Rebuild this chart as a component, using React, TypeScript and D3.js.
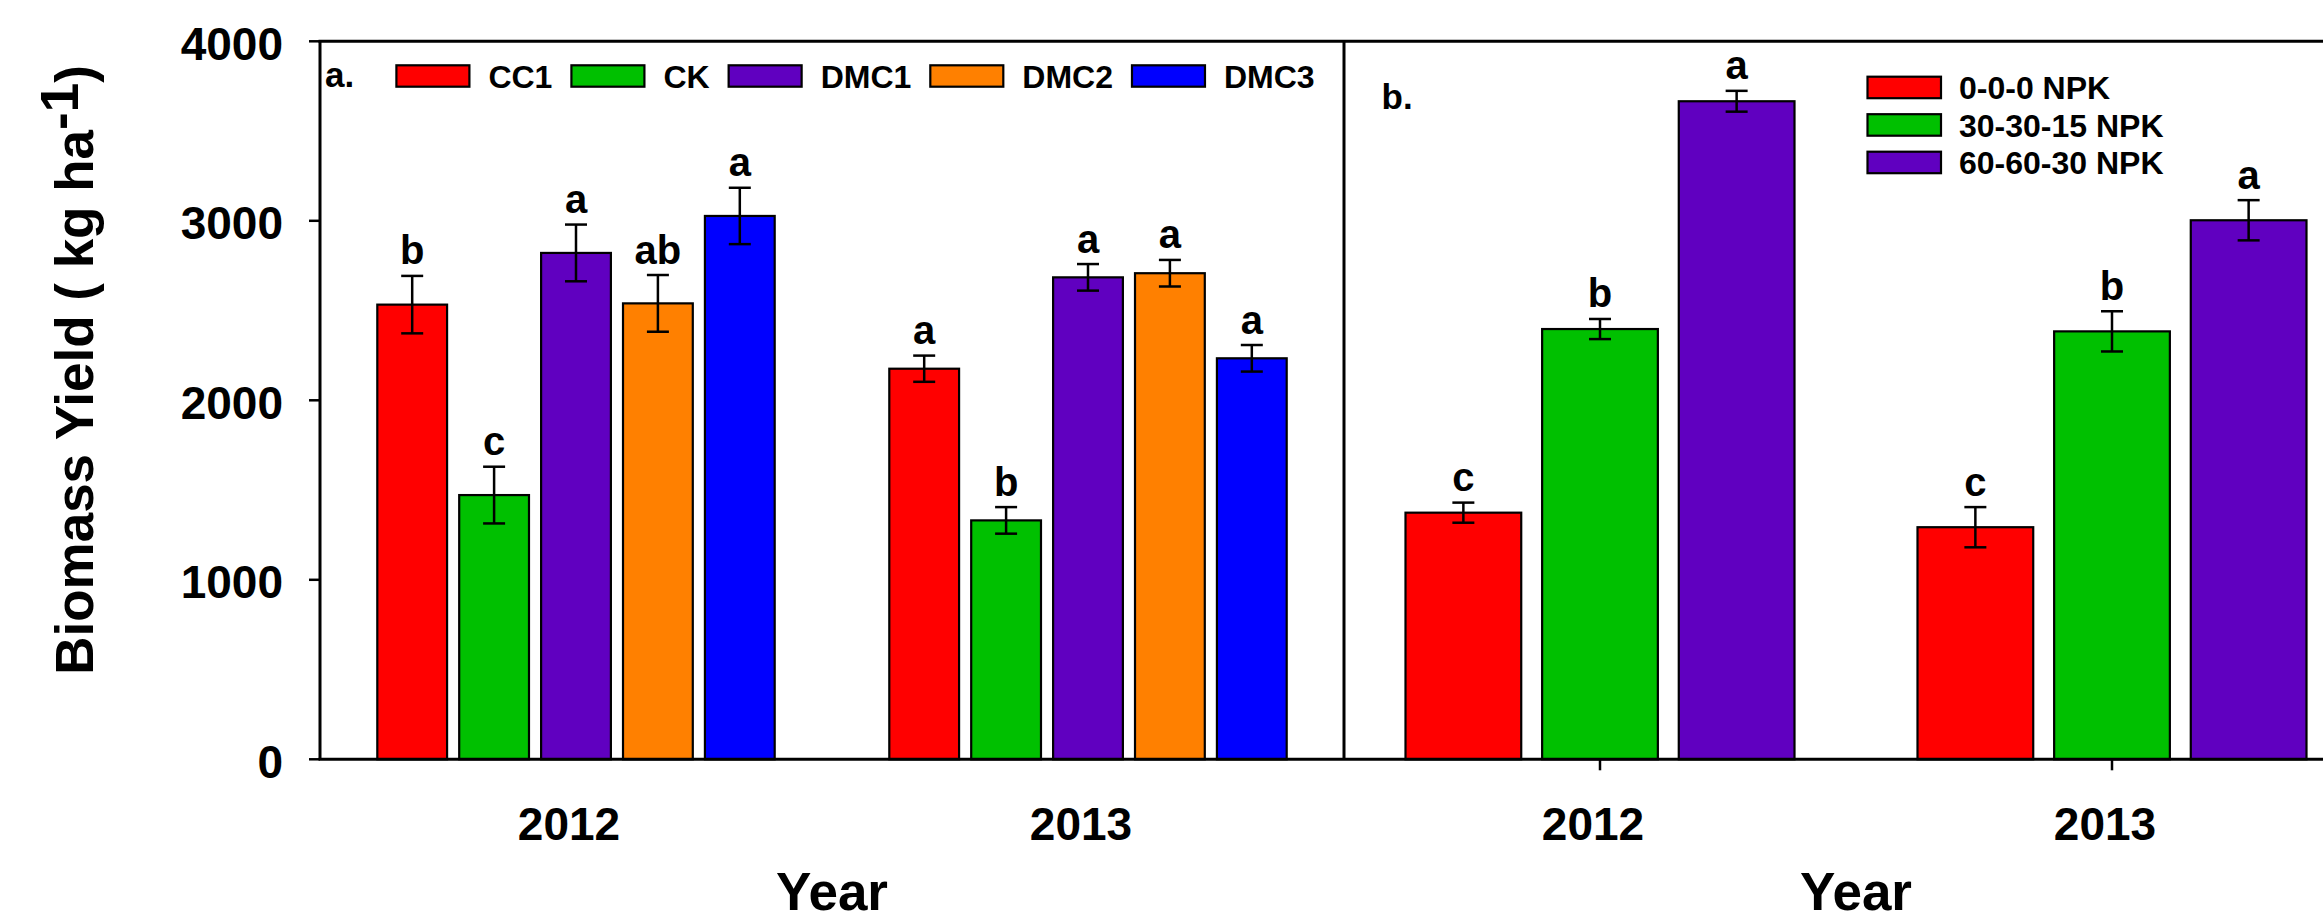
import React from "react";
import * as d3 from "d3";

// ---- data ----
const years = ["2012", "2013"];

const treatments = ["CC1", "CK", "DMC1", "DMC2", "DMC3"];
const treatmentColors = ["#FF0000", "#00C000", "#6000C0", "#FF8000", "#0000FF"];
const cropMean2012 = [2533, 1472, 2821, 2540, 3027];
const cropSE2012 = [160, 158, 158, 158, 157];
const cropLetters2012 = ["b", "c", "a", "ab", "a"];
const cropMean2013 = [2176, 1331, 2685, 2708, 2234];
const cropSE2013 = [73, 74, 74, 74, 74];
const cropLetters2013 = ["a", "b", "a", "a", "a"];

const npkLevels = ["0-0-0 NPK", "30-30-15 NPK", "60-60-30 NPK"];
const npkColors = ["#FF0000", "#00C000", "#6000C0"];
const npkMean2012 = [1374, 2397, 3666];
const npkSE2012 = [56, 56, 58];
const npkLetters2012 = ["c", "b", "a"];
const npkMean2013 = [1293, 2384, 3003];
const npkSE2013 = [112, 112, 112];
const npkLetters2013 = ["c", "b", "a"];

const yTicks = [0, 1000, 2000, 3000, 4000];

// ---- layout ----
const W = 2323;
const H = 923;
const FONT = "'Liberation Sans', Arial, Helvetica, sans-serif";
const top = 41.3;
const base = 759.3;
const leftA = 320;
const splitX = 1344;
const rightB = 2368;

const y = d3.scaleLinear().domain([0, 4000]).range([base, top]);

const xA = d3.scalePoint<string>().domain(years).range([leftA, splitX]).padding(0.5);
const xB = d3.scalePoint<string>().domain(years).range([splitX, rightB]).padding(0.5);

const innerA = d3.scaleBand<string>().domain(treatments).range([-198.7, 198.7]).paddingInner(0.148);
const innerB = d3.scaleBand<string>().domain(npkLevels).range([-194.5, 194.5]).paddingInner(0.153);

type Row = { key: string; year: string; mean: number; se: number; letter: string; color: string };

const rowsA: Row[] = [
  ...treatments.map((t, i) => ({ key: t, year: "2012", mean: cropMean2012[i], se: cropSE2012[i], letter: cropLetters2012[i], color: treatmentColors[i] })),
  ...treatments.map((t, i) => ({ key: t, year: "2013", mean: cropMean2013[i], se: cropSE2013[i], letter: cropLetters2013[i], color: treatmentColors[i] })),
];
const rowsB: Row[] = [
  ...npkLevels.map((t, i) => ({ key: t, year: "2012", mean: npkMean2012[i], se: npkSE2012[i], letter: npkLetters2012[i], color: npkColors[i] })),
  ...npkLevels.map((t, i) => ({ key: t, year: "2013", mean: npkMean2013[i], se: npkSE2013[i], letter: npkLetters2013[i], color: npkColors[i] })),
];

function textWidth(s: string, size: number): number {
  try {
    const ctx = document.createElement("canvas").getContext("2d");
    if (ctx) {
      ctx.font = `bold ${size}px ${FONT}`;
      return ctx.measureText(s).width;
    }
  } catch (e) {}
  return s.length * size * 0.62;
}

function Bars({ rows, outer, inner }: { rows: Row[]; outer: d3.ScalePoint<string>; inner: d3.ScaleBand<string> }) {
  const bw = inner.bandwidth();
  return (
    <g>
      {rows.map((r, i) => {
        const x0 = (outer(r.year) as number) + (inner(r.key) as number);
        const cx = x0 + bw / 2;
        const yTop = y(r.mean);
        const eTop = y(r.mean + r.se);
        const eBot = y(r.mean - r.se);
        return (
          <g key={i}>
            <rect x={x0} y={yTop} width={bw} height={base - yTop} fill={r.color} stroke="#000" strokeWidth={2.2} />
            <line x1={cx} x2={cx} y1={eTop} y2={eBot} stroke="#000" strokeWidth={2.5} />
            <line x1={cx - 11} x2={cx + 11} y1={eTop} y2={eTop} stroke="#000" strokeWidth={2.5} />
            <line x1={cx - 11} x2={cx + 11} y1={eBot} y2={eBot} stroke="#000" strokeWidth={2.5} />
            <text x={cx} y={eTop - 11.5} textAnchor="middle" fontSize={40} fontWeight="bold" fontFamily={FONT}>
              {r.letter}
            </text>
          </g>
        );
      })}
    </g>
  );
}

export default function App() {
  // horizontal legend of panel a
  const legendA: { x: number; label: string; color: string }[] = [];
  let lx = 396.4;
  treatments.forEach((t, i) => {
    legendA.push({ x: lx, label: t, color: treatmentColors[i] });
    lx += 92 + textWidth(t, 32) + 19;
  });

  return (
    <svg
      width={W}
      height={H}
      viewBox={`0 0 ${W} ${H}`}
      style={{ position: "absolute", left: 0, top: 0, display: "block", background: "#fff" }}
    >
      <rect x={0} y={0} width={W} height={H} fill="#fff" />

      {/* bars */}
      <Bars rows={rowsA} outer={xA} inner={innerA} />
      <Bars rows={rowsB} outer={xB} inner={innerB} />

      {/* frame */}
      <line x1={leftA - 1.5} x2={W} y1={top} y2={top} stroke="#000" strokeWidth={3} />
      <line x1={leftA - 1.5} x2={W} y1={base} y2={base} stroke="#000" strokeWidth={3} />
      <line x1={leftA} x2={leftA} y1={top} y2={base} stroke="#000" strokeWidth={3} />
      <line x1={splitX} x2={splitX} y1={top} y2={base} stroke="#000" strokeWidth={3} />

      {/* y axis ticks */}
      {yTicks.map((t) => (
        <g key={t}>
          <line x1={leftA - 11} x2={leftA} y1={y(t)} y2={y(t)} stroke="#000" strokeWidth={2.5} />
          <text x={283} y={y(t) + 18.5} textAnchor="end" fontSize={46} fontWeight="bold" fontFamily={FONT}>
            {t}
          </text>
        </g>
      ))}

      {/* x axis labels */}
      {years.map((yr) => (
        <g key={yr}>
          <text x={(xA(yr) as number) - 7} y={840} textAnchor="middle" fontSize={46} fontWeight="bold" fontFamily={FONT}>
            {yr}
          </text>
          <line x1={xB(yr) as number} x2={xB(yr) as number} y1={base} y2={base + 11} stroke="#000" strokeWidth={2.5} />
          <text x={(xB(yr) as number) - 7} y={840} textAnchor="middle" fontSize={46} fontWeight="bold" fontFamily={FONT}>
            {yr}
          </text>
        </g>
      ))}

      {/* axis titles */}
      <text x={(leftA + splitX) / 2} y={910} textAnchor="middle" fontSize={53} fontWeight="bold" fontFamily={FONT}>
        Year
      </text>
      <text x={(splitX + rightB) / 2} y={910} textAnchor="middle" fontSize={53} fontWeight="bold" fontFamily={FONT}>
        Year
      </text>
      <text
        transform="translate(93,370) rotate(-90)"
        textAnchor="middle"
        fontSize={53}
        fontWeight="bold"
        fontFamily={FONT}
      >
        Biomass Yield ( kg ha<tspan dy={-15}>-1</tspan>
        <tspan dy={15}>)</tspan>
      </text>

      {/* panel labels */}
      <text x={325} y={87} fontSize={35} fontWeight="bold" fontFamily={FONT}>
        a.
      </text>
      <text x={1381.5} y={109} fontSize={35} fontWeight="bold" fontFamily={FONT}>
        b.
      </text>

      {/* legend, panel a */}
      {legendA.map((d) => (
        <g key={d.label}>
          <rect x={d.x} y={65.3} width={73} height={21.4} fill={d.color} stroke="#000" strokeWidth={2.2} />
          <text x={d.x + 92} y={87.5} fontSize={32} fontWeight="bold" fontFamily={FONT}>
            {d.label}
          </text>
        </g>
      ))}

      {/* legend, panel b */}
      {npkLevels.map((lvl, i) => (
        <g key={lvl}>
          <rect x={1867.5} y={76.7 + i * 37.5} width={73.5} height={21.5} fill={npkColors[i]} stroke="#000" strokeWidth={2.2} />
          <text x={1959} y={99 + i * 37.5} fontSize={32} fontWeight="bold" fontFamily={FONT}>
            {lvl}
          </text>
        </g>
      ))}
    </svg>
  );
}
